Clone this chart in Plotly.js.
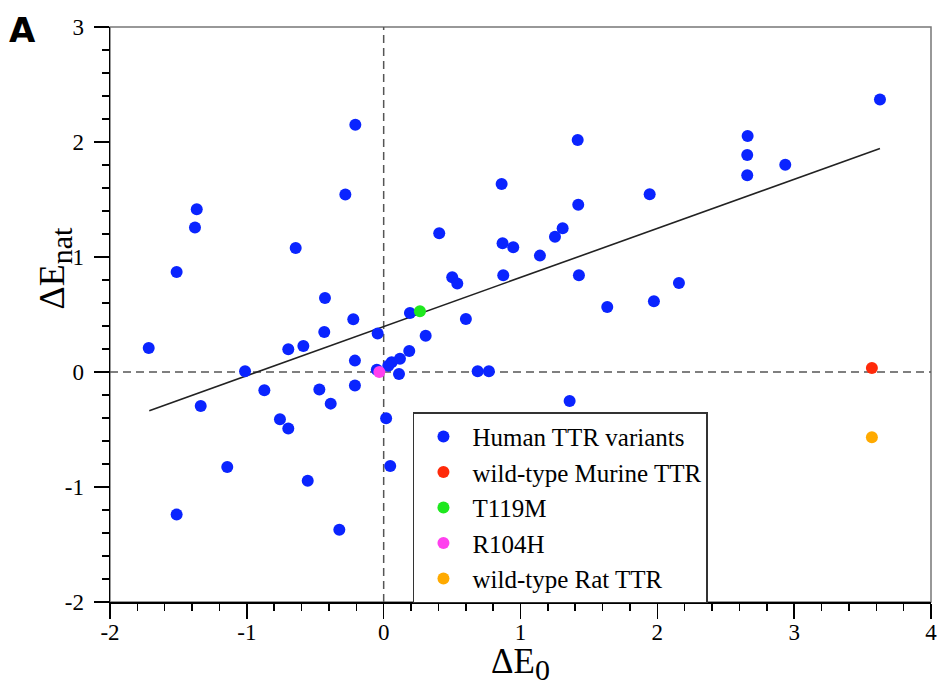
<!DOCTYPE html>
<html>
<head>
<meta charset="utf-8">
<script src="https://cdn.plot.ly/plotly-3.0.1.min.js"></script>
<style>html,body{margin:0;padding:0;background:#fff;}#chart{width:938px;height:685px;}</style>
</head>
<body>
<div id="chart"></div>
<script>
// Human TTR variants
const humanX = [-0.207,-0.28,-1.366,-1.379,-0.643,-1.513,-0.429,-0.222,1.418,0.862,1.944,1.422,0.406,1.308,1.252,0.869,0.947,1.142,0.501,0.538,0.874,1.427,1.634,1.975,2.158,0.192,0.601,3.627,2.660,2.657,2.657,2.935,-0.434,-0.044,-1.717,-0.697,-0.587,-0.21,-1.013,-0.05,0.058,0.034,0.119,0.187,0.307,0.112,-0.872,-0.47,-0.21,-0.387,-1.337,-0.758,-0.697,0.018,-1.143,0.048,-0.555,-1.513,-0.324,0.687,0.769,1.359];
const humanY = [2.151,1.543,1.415,1.256,1.078,0.870,0.643,0.458,2.017,1.635,1.545,1.455,1.206,1.250,1.177,1.119,1.084,1.012,0.823,0.769,0.841,0.841,0.565,0.615,0.774,0.513,0.460,2.369,2.052,1.887,1.710,1.803,0.348,0.334,0.209,0.197,0.226,0.099,0.006,0.02,0.085,0.055,0.116,0.183,0.315,-0.018,-0.159,-0.153,-0.118,-0.275,-0.296,-0.411,-0.492,-0.403,-0.826,-0.818,-0.945,-1.240,-1.371,0.006,0.006,-0.252];
// Other series
const murineX = [3.568], murineY = [0.035];
const t119mX = [0.265], t119mY = [0.528];
const r104hX = [-0.032], r104hY = [0.0];
const ratX = [3.568], ratY = [-0.568];
// Linear fit line endpoints
const fitX = [-1.713, 3.627];
const fitY = [-0.336, 1.943];
// Axis ticks
const xTicks = [-2,-1,0,1,2,3,4];
const yTicks = [-2,-1,0,1,2,3];

const serif = "Liberation Serif";
const mk = (c, s) => ({color: c, size: s, line: {width: 0}});

const traces = [
  {x: fitX, y: fitY, mode: 'lines', line: {color: '#222', width: 1.6}, showlegend: false, hoverinfo: 'skip'},
  {x: humanX, y: humanY, mode: 'markers', name: 'Human TTR variants', marker: mk('#0a24ff', 12)},
  {x: murineX, y: murineY, mode: 'markers', name: 'wild-type Murine TTR', marker: mk('#ff2a0a', 12)},
  {x: t119mX, y: t119mY, mode: 'markers', name: 'T119M', marker: mk('#1ee81e', 12)},
  {x: r104hX, y: r104hY, mode: 'markers', name: 'R104H', marker: mk('#ff40ee', 12)},
  {x: ratX, y: ratY, mode: 'markers', name: 'wild-type Rat TTR', marker: mk('#ffaa00', 12)}
];

function axis(range, vals, standoff) {
  return {
    range: range, tickmode: 'array', tickvals: vals, ticktext: vals.map(String),
    showgrid: false, zeroline: false, showline: true, linecolor: '#000', linewidth: 1.5,
    ticks: 'outside', ticklen: 15, tickwidth: 1.5, tickcolor: '#000',
    tickfont: {family: serif, size: 23, color: '#000'}, ticklabelstandoff: standoff,
    minor: {tickmode: 'linear', dtick: 0.2, ticks: 'outside', ticklen: 7, tickwidth: 1.5, tickcolor: '#000'}
  };
}

const layout = {
  width: 938, height: 685,
  margin: {l: 110, r: 7, t: 27, b: 83},
  paper_bgcolor: '#fff', plot_bgcolor: '#fff',
  font: {family: serif, color: '#000'},
  showlegend: true,
  xaxis: axis([-2, 4], xTicks, -6),
  yaxis: axis([-2, 3], yTicks, 5),
  legend: {
    x: 0.369, y: 0.33, xanchor: 'left', yanchor: 'top',
    bgcolor: '#fff', bordercolor: '#333', borderwidth: 1.5,
    font: {family: serif, size: 25, color: '#000'},
    itemwidth: 48, tracegroupgap: 0
  },
  shapes: [
    {type: 'rect', xref: 'paper', yref: 'paper', x0: 0, x1: 1, y0: 0, y1: 1, line: {color: '#777', width: 1.5}, layer: 'below'},
    {type: 'line', xref: 'x', yref: 'paper', x0: 0, x1: 0, y0: 0, y1: 1, line: {color: '#555', width: 1.5, dash: '8px,5px'}, layer: 'below'},
    {type: 'line', xref: 'paper', yref: 'y', x0: 0, x1: 1, y0: 0, y1: 0, line: {color: '#555', width: 1.5, dash: '8px,5px'}, layer: 'below'}
  ],
  annotations: [
    {text: '<b>A</b>', xref: 'paper', yref: 'paper', x: -0.106, y: 0.995, xanchor: 'center', yanchor: 'middle', showarrow: false,
     font: {family: 'DejaVu Sans', size: 34, color: '#000'}},
    {text: 'ΔE<sub><span style="font-size:30px">0</span></sub>', xref: 'paper', yref: 'paper', x: 0.5, y: -0.107, xanchor: 'center', yanchor: 'middle', showarrow: false,
     font: {family: serif, size: 35, color: '#000'}},
    {text: 'ΔE<sub><span style="font-size:30px">nat</span></sub>', xref: 'paper', yref: 'paper', x: -0.067, y: 0.58, xanchor: 'center', yanchor: 'middle', showarrow: false,
     textangle: -90, font: {family: serif, size: 36, color: '#000'}}
  ]
};

Plotly.newPlot('chart', traces, layout, {displayModeBar: false, staticPlot: true});
</script>
</body>
</html>
